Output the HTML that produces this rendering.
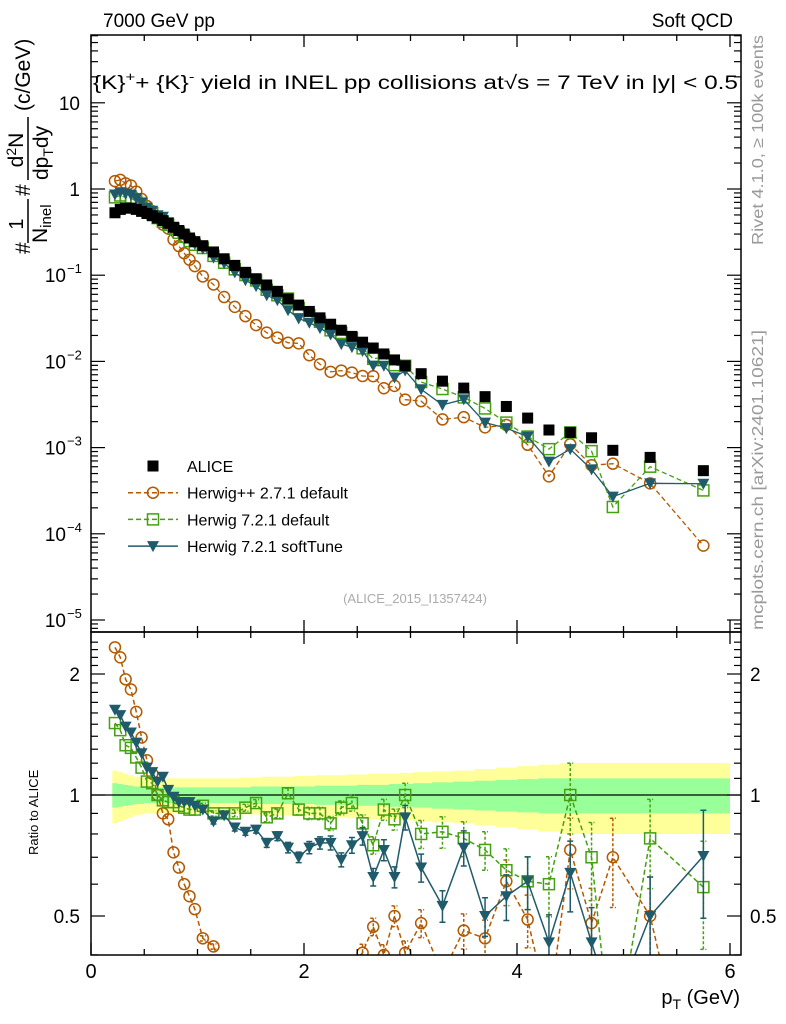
<!DOCTYPE html>
<html><head><meta charset="utf-8"><style>
html,body{margin:0;padding:0;background:#fff;overflow:hidden;width:786px;height:1024px;}
svg{display:block;font-family:"Liberation Sans",sans-serif;}
</style></head><body>
<svg id="chart" width="786" height="1024" viewBox="0 0 786 1024">
<defs>
<clipPath id="clipMain"><rect x="91" y="35" width="650" height="597"/></clipPath>
<clipPath id="clipRatio"><rect x="91" y="632" width="650" height="323"/></clipPath>
</defs>
<g id="bands" clip-path="url(#clipRatio)"></g>
<g id="ratioLayer" clip-path="url(#clipRatio)"></g>
<g id="mainLayer" clip-path="url(#clipMain)"></g>
<g id="axes"></g>
<text x="103" y="27" font-size="19">7000 GeV pp</text>
<text x="733" y="27" font-size="19" text-anchor="end">Soft QCD</text>
<text x="93" y="89" font-size="19" textLength="645" lengthAdjust="spacingAndGlyphs">{K}<tspan dy="-8" font-size="13">+</tspan><tspan dy="8">+ {K}</tspan><tspan dy="-8" font-size="13">-</tspan><tspan dy="8"> yield in INEL pp collisions at√s =  7 TeV in |y| &lt; 0.5</tspan></text>
<text transform="translate(763,245) rotate(-90)" font-size="16" fill="#999" textLength="210" lengthAdjust="spacingAndGlyphs">Rivet 4.1.0, ≥ 100k events</text>
<text transform="translate(763,630) rotate(-90)" font-size="16" fill="#999" textLength="300" lengthAdjust="spacingAndGlyphs">mcplots.cern.ch [arXiv:2401.10621]</text>
<text x="415" y="603" font-size="13" fill="#aaa" text-anchor="middle">(ALICE_2015_I1357424)</text>
<g transform="rotate(-90)" font-size="21">
<text x="-254" y="30">#</text>
<text x="-224" y="23" text-anchor="middle" font-size="20">1</text>
<line x1="-243" y1="28" x2="-199" y2="28" stroke="#000" stroke-width="1.5"/>
<text x="-243" y="47">N<tspan font-size="15" dy="4">inel</tspan></text>
<text x="-196" y="30">#</text>
<text x="-150" y="23" text-anchor="middle">d<tspan font-size="14" dy="-7">2</tspan><tspan dy="7">N</tspan></text>
<line x1="-180" y1="28" x2="-117" y2="28" stroke="#000" stroke-width="1.5"/>
<text x="-180" y="48">dp<tspan font-size="14" dy="5">T</tspan><tspan dy="-5">dy</tspan></text>
<text x="-111" y="30">(c/GeV)</text>
</g>
<text transform="translate(38,855) rotate(-90)" font-size="13">Ratio to ALICE</text>
<text x="740" y="1004" font-size="20" text-anchor="end">p<tspan font-size="14" dy="5">T</tspan><tspan dy="-5"> (GeV)</tspan></text>
<g id="legend"></g>
</svg>
<script>
const pT = [0.225,0.275,0.325,0.375,0.425,0.475,0.525,0.575,0.625,0.675,0.725,0.775,0.825,0.875,0.925,0.975,
1.05,1.15,1.25,1.35,1.45,1.55,1.65,1.75,1.85,1.95,2.05,2.15,2.25,2.35,2.45,2.55,2.65,2.75,2.85,2.95,
3.1,3.3,3.5,3.7,3.9,4.1,4.3,4.5,4.7,4.9,5.25,5.75];
const aliceYield = [0.53,0.58,0.6,0.6,0.58,0.55,0.52,0.49,0.46,0.43,0.40,0.36,0.33,0.30,0.27,0.245,
0.22,0.186,0.155,0.13,0.108,0.091,0.077,0.065,0.053,0.045,0.038,0.032,0.027,0.023,0.0195,0.0167,0.0143,0.0122,0.0104,0.0089,
0.0072,0.0059,0.0049,0.0039,0.0030,0.0022,0.0016,0.0015,0.0013,0.00093,0.00077,0.00054];
const aliceStatErr = [0.07,0.065,0.06,0.055,0.05,0.05,0.045,0.045,0.045,0.045,0.045,0.045,0.045,0.045,0.045,0.045,
0.045,0.045,0.045,0.045,0.045,0.05,0.05,0.05,0.05,0.05,0.05,0.055,0.055,0.055,0.055,0.06,0.06,0.06,0.065,0.065,
0.07,0.075,0.08,0.085,0.09,0.095,0.1,0.1,0.1,0.1,0.1,0.1];
const aliceTotErr = [0.15,0.14,0.13,0.12,0.11,0.105,0.1,0.1,0.1,0.1,0.1,0.1,0.1,0.1,0.1,0.1,
0.1,0.1,0.1,0.1,0.105,0.105,0.11,0.11,0.11,0.115,0.115,0.12,0.12,0.12,0.125,0.125,0.13,0.13,0.13,0.135,
0.14,0.145,0.15,0.16,0.17,0.18,0.19,0.2,0.2,0.2,0.2,0.2];
const herwigPPRatio = [2.33,2.2,1.94,1.83,1.61,1.39,1.22,1.13,1.0,0.90,0.87,0.72,0.66,0.60,0.56,0.52,
0.44,0.42,0.36,0.33,0.31,0.29,0.28,0.29,0.31,0.36,0.31,0.29,0.28,0.34,0.38,0.405,0.47,0.40,0.50,0.405,
0.48,0.36,0.46,0.44,0.61,0.49,0.29,0.73,0.48,0.70,0.50,0.135];
const herwig7DefRatio = [1.51,1.45,1.33,1.31,1.24,1.17,1.08,1.07,1.0,0.97,0.96,0.96,0.94,0.93,0.92,0.92,
0.94,0.90,0.90,0.90,0.93,0.955,0.88,0.90,1.01,0.92,0.90,0.90,0.85,0.93,0.955,0.85,0.75,0.92,0.87,1.0,
0.80,0.81,0.78,0.73,0.65,0.61,0.60,1.0,0.70,0.22,0.78,0.59];
const herwig7SoftRatio = [1.63,1.58,1.48,1.43,1.35,1.27,1.17,1.14,1.08,1.11,1.03,0.99,0.96,0.96,0.96,0.94,
0.92,0.86,0.89,0.83,0.81,0.82,0.76,0.79,0.74,0.70,0.74,0.76,0.76,0.69,0.75,0.79,0.625,0.73,0.625,0.88,
0.66,0.53,0.74,0.50,0.56,0.61,0.43,0.64,0.43,0.29,0.50,0.705];
const mcRelErr = [0.01,0.01,0.01,0.01,0.01,0.01,0.01,0.01,0.01,0.01,0.01,0.01,0.01,0.01,0.01,0.01,
0.015,0.015,0.015,0.02,0.02,0.02,0.025,0.025,0.03,0.03,0.035,0.035,0.04,0.04,0.045,0.05,0.05,0.06,0.06,0.07,
0.08,0.09,0.1,0.11,0.13,0.15,0.17,0.2,0.22,0.25,0.25,0.3];
const yTickLabelsMain = ["10","1","10","10","10","10","10"];
const yTickExpMain = ["","","−1","−2","−3","−4","−5"];
const yTickValuesMain = [10,1,0.1,0.01,0.001,0.0001,0.00001];
const ratioTickValues = [2,1,0.5];
const ratioTickLabels = ["2","1","0.5"];
const xTickValues = [0,2,4,6];

const NS="http://www.w3.org/2000/svg";
const X0=91,X1=741,XPX=106.5,RB=955;
const xS=v=>X0+v*XPX;
const yM=v=>189-86.2*Math.log10(v);
const yR=r=>795-121*Math.log2(r);
function mk(tag,attrs,parent){const e=document.createElementNS(NS,tag);for(const k in attrs)e.setAttribute(k,attrs[k]);parent.appendChild(e);return e;}
const axes=document.getElementById('axes');
const bands=document.getElementById('bands');
const ratioL=document.getElementById('ratioLayer');
const mainL=document.getElementById('mainLayer');

function bandPath(err){let up='',dn='';
 for(let i=0;i<pT.length;i++){const lo=i==0?0.2:(pT[i-1]+pT[i])/2,hi=i==pT.length-1?6:(pT[i]+pT[i+1])/2;
  up+=(i?'L':'M')+xS(lo)+','+yR(1+err[i])+'L'+xS(hi)+','+yR(1+err[i]);}
 for(let i=pT.length-1;i>=0;i--){const lo=i==0?0.2:(pT[i-1]+pT[i])/2,hi=i==pT.length-1?6:(pT[i]+pT[i+1])/2;
  dn+='L'+xS(hi)+','+yR(1-err[i])+'L'+xS(lo)+','+yR(1-err[i]);}
 return up+dn+'Z';}
const yb=mk('path',{d:bandPath(aliceTotErr),fill:'#ffff99'},bands);


const gb=mk('path',{d:bandPath(aliceStatErr),fill:'#99ff99'},bands);


const ref=mk('line',{x1:X0,x2:X1,y1:yR(1),y2:yR(1),stroke:'#000','stroke-width':1.3},ratioL);



function marker(kind,cx,cy,color,parent){
 let e;
 if(kind==='circle')e=mk('circle',{cx:cx,cy:cy,r:5.5,fill:'none',stroke:color,'stroke-width':1.5},parent);
 else if(kind==='square')e=mk('rect',{x:cx-5.5,y:cy-5.5,width:11,height:11,fill:'none',stroke:color,'stroke-width':1.5},parent);
 else if(kind==='tri')e=mk('path',{d:`M${cx-6},${cy-5}L${cx+6},${cy-5}L${cx},${cy+6}Z`,fill:color},parent);
 else e=mk('rect',{x:cx-5.5,y:cy-5.5,width:11,height:11,fill:color},parent);
 return e;}

const series=[
 {name:'herwigpp-271',ratio:herwigPPRatio,color:'#b35900',kind:'circle',dash:'5,3'},
 {name:'herwig-721-default',ratio:herwig7DefRatio,color:'#44a010',kind:'square',dash:'5,3'},
 {name:'herwig-721-softtune',ratio:herwig7SoftRatio,color:'#1f5b6b',kind:'tri',dash:''}
];
series.forEach(s=>{
 const gR=mk('g',{},ratioL);
 
 
 const gM=mk('g',{},mainL);
 
 
 let dR='',dM='';
 pT.forEach((x,i)=>{const r=s.ratio[i];dR+=(i?'L':'M')+xS(x)+','+yR(r);dM+=(i?'L':'M')+xS(x)+','+yM(aliceYield[i]*r);});
 const lr=mk('path',{d:dR,fill:'none',stroke:s.color,'stroke-width':1.5,'stroke-dasharray':s.dash},gR);
 
 
 const lm=mk('path',{d:dM,fill:'none',stroke:s.color,'stroke-width':1.3,'stroke-dasharray':s.dash},gM);
 
 
 pT.forEach((x,i)=>{const r=s.ratio[i],e=mcRelErr[i];
  if(e>0.012){const hi=yR(r*(1+e)),lo=yR(Math.max(r*(1-e),0.01));const eb=mk('path',{d:`M${xS(x)},${hi}L${xS(x)},${lo}M${xS(x)-3},${hi}L${xS(x)+3},${hi}M${xS(x)-3},${lo}L${xS(x)+3},${lo}`,stroke:s.color,'stroke-width':1.5,'stroke-dasharray':s.dash?'3,2':''},gR);
   
   }
  const mR=marker(s.kind,xS(x),yR(r),s.color,gR);
  
  
  const mM=marker(s.kind,xS(x),yM(aliceYield[i]*r),s.color,gM);
  
  
 });
});
const gA=mk('g',{},mainL);


pT.forEach((x,i)=>{const m=marker('fill',xS(x),yM(aliceYield[i]),'#000',gA);
 
 });

[[35,632],[632,RB]].forEach(([t,b])=>{const f=mk('rect',{x:X0,y:t,width:X1-X0,height:b-t,fill:'none',stroke:'#000','stroke-width':1.5},axes);
 
 });
for(let v=0;v<=6.01;v+=0.5){const major=Math.abs(v-Math.round(v/2)*2)<1e-6;const L=major?12:6;
 [[RB,-1],[632,-1],[632,1],[35,1]].forEach(([y,d])=>{mk('line',{x1:xS(v),x2:xS(v),y1:y,y2:y+d*L,stroke:'#000','stroke-width':1.3},axes);});}
xTickValues.forEach(v=>{const t=mk('text',{x:xS(v),y:978,'font-size':20,'text-anchor':'middle'},axes);t.textContent=String(v);
 
 });
for(let e=-6;e<=1;e++){for(let k=1;k<=9;k++){const v=k*Math.pow(10,e);const y=yM(v);if(y<35||y>632)continue;const L=k==1?14:7;
 mk('line',{x1:X0,x2:X0+L,y1:y,y2:y,stroke:'#000','stroke-width':1.2},axes);
 mk('line',{x1:X1,x2:X1-L,y1:y,y2:y,stroke:'#000','stroke-width':1.2},axes);}}
yTickValuesMain.forEach((v,i)=>{const t=mk('text',{x:yTickExpMain[i]?66:80,y:yM(v)+7,'font-size':19,'text-anchor':'end'},axes);
 t.textContent=yTickLabelsMain[i];
 
 
 if(yTickExpMain[i]){const s=mk('text',{x:67,y:yM(v)-2,'font-size':13},axes);s.textContent=yTickExpMain[i];
  
  }});
for(let v=0.4;v<=2.5;v+=0.1){const r=Math.round(v*10)/10;const y=yR(r);if(y<632||y>RB)continue;const major=(r==0.5||r==1||r==2);const L=major?14:7;
 mk('line',{x1:X0,x2:X0+L,y1:y,y2:y,stroke:'#000','stroke-width':1.2},axes);
 mk('line',{x1:X1,x2:X1-L,y1:y,y2:y,stroke:'#000','stroke-width':1.2},axes);}
ratioTickValues.forEach((v,i)=>{const t=mk('text',{x:80,y:yR(v)+7,'font-size':19,'text-anchor':'end'},axes);t.textContent=ratioTickLabels[i];
 
 
 const t2=mk('text',{x:750,y:yR(v)+7,'font-size':19},axes);t2.textContent=ratioTickLabels[i];
 
 });
const leg=document.getElementById('legend');
const legItems=[['ALICE','fill','#000',''],['Herwig++ 2.7.1 default','circle','#b35900','5,3'],['Herwig 7.2.1 default','square','#44a010','5,3'],['Herwig 7.2.1 softTune','tri','#1f5b6b','']];
legItems.forEach((it,i)=>{const y=466+i*26.7;const g=mk('g',{},leg);
 
 
 if(i>0)mk('line',{x1:128,x2:178,y1:y,y2:y,stroke:it[2],'stroke-width':1.5,'stroke-dasharray':it[3]},g);
 marker(it[1],153,y,it[2],g);
 const t=mk('text',{x:187,y:y+6,'font-size':16},g);t.textContent=it[0];});
</script>
</body></html>
